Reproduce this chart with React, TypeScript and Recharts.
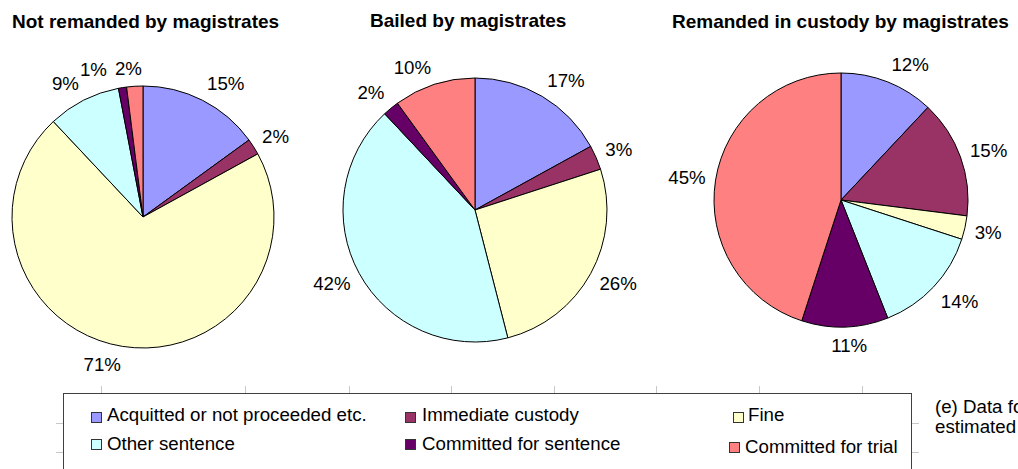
import React from 'react';
import { PieChart, Pie, Cell, Legend } from 'recharts';

const CATEGORIES = [
  'Acquitted or not proceeded etc.',
  'Immediate custody',
  'Fine',
  'Other sentence',
  'Committed for sentence',
  'Committed for trial',
];
const COLORS = ['#9999FF', '#993366', '#FFFFCC', '#CCFFFF', '#660066', '#FF8080'];

const NOT_REMANDED = [15, 2, 71, 9, 1, 2];
const BAILED = [17, 3, 26, 42, 2, 10];
const REMANDED_IN_CUSTODY = [12, 15, 3, 14, 11, 45];

const TITLES = ['Not remanded by magistrates', 'Bailed by magistrates', 'Remanded in custody by magistrates'];
const FOOTNOTE = ['(e) Data for', 'estimated'];

const FONT = '"Liberation Sans", Arial, Helvetica, sans-serif';
const LABEL_FS = 18.7;

// layout (not data)
const PIES = [
  { values: NOT_REMANDED, cx: 143, cy: 217, r: 131, titleX: 12, titleY: 28 },
  { values: BAILED, cx: 475, cy: 210, r: 132, titleX: 370, titleY: 27 },
  { values: REMANDED_IN_CUSTODY, cx: 841, cy: 200, r: 127, titleX: 672, titleY: 28 },
];
const LEGEND_BOX = { left: 63, top: 393, width: 849, height: 120 };
const LEGEND_SLOTS = [
  { sx: 28, sy: 19, tx: 44, ty: 28 },
  { sx: 342, sy: 19, tx: 359, ty: 28 },
  { sx: 670, sy: 19, tx: 685, ty: 28 },
  { sx: 28, sy: 46, tx: 44, ty: 57 },
  { sx: 342, sy: 46, tx: 359, ty: 57 },
  { sx: 666, sy: 49, tx: 682, ty: 60 },
];
const GRID_X = [101, 245, 349, 451, 554, 656, 759, 862];
const GRID_Y = [423, 452];

const clamp = (v: number, a: number, b: number) => Math.max(a, Math.min(b, v));

function textWidth(s: string, fs: number) {
  let w = 0;
  for (const ch of s) w += ch === '%' ? 0.889 : 0.556;
  return w * fs;
}

function layoutLabels(values: number[], cx: number, cy: number, r: number) {
  const total = values.reduce((a, b) => a + b, 0);
  let start = 90;
  const h = 16;
  const boxes = values.map((v) => {
    const span = (v / total) * 360;
    const mid = start - span / 2;
    start -= span;
    const rad = (mid * Math.PI) / 180;
    const dx = Math.cos(rad);
    const dy = -Math.sin(rad);
    const px = cx + (r + 10) * dx;
    const py = cy + (r + 10) * dy;
    const w = textWidth(`${v}%`, LABEL_FS);
    const ox = clamp(dx / 0.15, -1, 1) * (w / 2);
    const oy = clamp(dy * 1.3, -1, 1) * (h / 2);
    return { x: px + ox, y: py + oy, w, h, dir: dx };
  });
  // resolve overlaps, last slice first, pushing outward horizontally
  const placed: typeof boxes = [];
  for (let i = boxes.length - 1; i >= 0; i--) {
    const b = boxes[i];
    for (const p of placed) {
      const overlapX = Math.abs(b.x - p.x) < (b.w + p.w) / 2 - 2;
      const overlapY = Math.abs(b.y - p.y) < (b.h + p.h) / 2;
      if (overlapX && overlapY) {
        if (b.dir < 0) b.x = p.x - (b.w + p.w) / 2 - 8;
        else b.x = p.x + (b.w + p.w) / 2 + 8;
      }
    }
    placed.push(b);
  }
  return boxes;
}

function makeLabel(values: number[]) {
  return (props: any) => {
    const { cx, cy, outerRadius, index } = props;
    const boxes = layoutLabels(values, cx, cy, outerRadius);
    const b = boxes[index];
    return (
      <text
        x={b.x}
        y={b.y + 0.36 * LABEL_FS}
        textAnchor="middle"
        fontFamily={FONT}
        fontSize={LABEL_FS}
        fill="#000"
      >
        {`${values[index]}%`}
      </text>
    );
  };
}

const renderLegend = () => (
  <div
    style={{
      position: 'absolute',
      left: 0,
      top: 0,
      width: LEGEND_BOX.width,
      height: LEGEND_BOX.height,
      border: '1px solid #404040',
      boxSizing: 'border-box',
      background: '#fff',
    }}
  >
    <svg width={LEGEND_BOX.width} height={LEGEND_BOX.height} style={{ position: 'absolute', left: -1, top: -1 }}>
      {CATEGORIES.map((name, i) => {
        const s = LEGEND_SLOTS[i];
        return (
          <g key={name}>
            <rect x={s.sx + 0.5} y={s.sy + 0.5} width={10} height={10} fill={COLORS[i]} stroke="#333" strokeWidth={1} />
            <text x={s.tx} y={s.ty} fontFamily={FONT} fontSize={LABEL_FS} fill="#000">
              {name}
            </text>
          </g>
        );
      })}
    </svg>
  </div>
);

export default function App() {
  return (
    <div style={{ position: 'relative', width: 1018, height: 469, overflow: 'hidden', background: '#fff', fontFamily: FONT }}>
      <style>{'body{margin:0;}'}</style>
      <svg width={1018} height={469} style={{ position: 'absolute', left: 0, top: 0 }}>
        {GRID_X.map((x) => (
          <line key={`gx${x}`} x1={x + 0.5} x2={x + 0.5} y1={386} y2={393} stroke="#c8c8c8" strokeWidth={1} />
        ))}
        {GRID_Y.map((y) => (
          <g key={`gy${y}`}>
            <line x1={56} x2={63} y1={y + 0.5} y2={y + 0.5} stroke="#c8c8c8" strokeWidth={1} />
            <line x1={912} x2={919} y1={y + 0.5} y2={y + 0.5} stroke="#c8c8c8" strokeWidth={1} />
          </g>
        ))}
        {PIES.map((p, i) => (
          <text key={TITLES[i]} x={p.titleX} y={p.titleY} fontFamily={FONT} fontSize={19} fontWeight="bold" fill="#000">
            {TITLES[i]}
          </text>
        ))}
        <text x={935} y={413} fontFamily={FONT} fontSize={LABEL_FS} fill="#000">{FOOTNOTE[0]}</text>
        <text x={935} y={433} fontFamily={FONT} fontSize={LABEL_FS} fill="#000">{FOOTNOTE[1]}</text>
      </svg>
      <div style={{ position: 'absolute', left: 0, top: 0 }}>
        <PieChart width={1018} height={469} margin={{ top: 0, right: 0, bottom: 0, left: 0 }}>
          {PIES.map((p, pi) => (
            <Pie
              key={`pie${pi}`}
              data={p.values.map((v, i) => ({ name: CATEGORIES[i], value: v }))}
              dataKey="value"
              nameKey="name"
              cx={p.cx}
              cy={p.cy}
              innerRadius={0}
              outerRadius={p.r}
              startAngle={90}
              endAngle={-270}
              stroke="#000"
              strokeWidth={1}
              labelLine={false}
              label={makeLabel(p.values)}
              isAnimationActive={false}
            >
              {p.values.map((_, i) => (
                <Cell key={`c${pi}-${i}`} fill={COLORS[i]} stroke="#000" strokeWidth={1} />
              ))}
            </Pie>
          ))}
          <Legend
            content={renderLegend}
            wrapperStyle={{
              position: 'absolute',
              left: LEGEND_BOX.left,
              top: LEGEND_BOX.top,
              bottom: 'auto',
              width: LEGEND_BOX.width,
              height: LEGEND_BOX.height,
              margin: 0,
              padding: 0,
            }}
          />
        </PieChart>
      </div>
    </div>
  );
}
